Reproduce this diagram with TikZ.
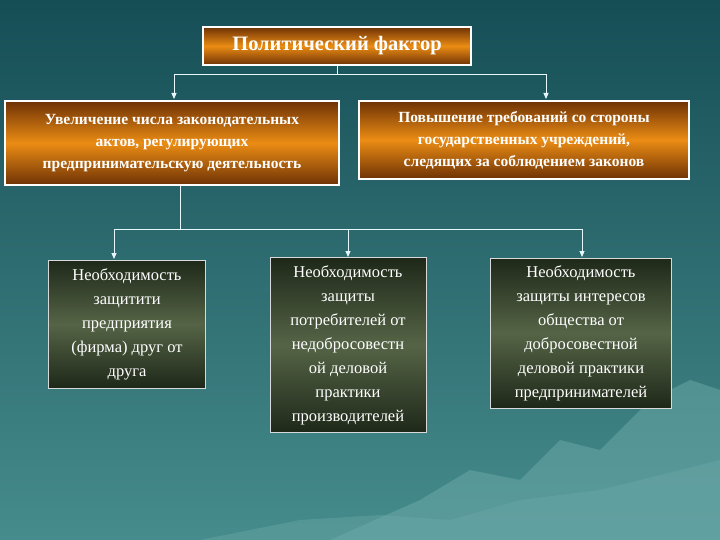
\documentclass[tikz,border=0pt]{standalone}
\usepackage{fontspec}
\setmainfont{Liberation Serif}
\usetikzlibrary{arrows.meta}
\definecolor{bgtop}{RGB}{22,78,86}
\definecolor{bgbot}{RGB}{70,140,140}
\definecolor{mnt}{RGB}{110,170,170}
\definecolor{orD}{RGB}{110,50,5}
\definecolor{orL}{RGB}{235,140,20}
\definecolor{grD}{RGB}{30,40,25}
\definecolor{grL}{RGB}{85,100,70}
\tikzset{
 obox/.style={draw=white,line width=2.5pt,top color=orD,bottom color=orD,middle color=orL,text=white,font=\bfseries\fontsize{15.5}{22}\selectfont,align=center,inner sep=4pt},
 gbox/.style={draw=white!85!black,line width=1pt,top color=grD,bottom color=grD,middle color=grL,text=white,font=\fontsize{16.5}{24}\selectfont,align=center,inner sep=3pt},
 conn/.style={draw=white!90!cyan,line width=1pt},
 arr/.style={conn,-{Triangle[width=5pt,length=6pt]}}
}
\begin{document}
\begin{tikzpicture}[x=1pt,y=-1pt]
\useasboundingbox (0,0) rectangle (720,540);
\shade[top color=bgtop,bottom color=bgbot] (0,0) rectangle (720,540);
\fill[mnt,opacity=0.5] (330,540) -- (420,500) -- (470,470) -- (520,480) -- (560,440) -- (600,450) -- (650,400) -- (690,380) -- (720,390) -- (720,540) -- cycle;
\fill[mnt,opacity=0.4] (200,540) -- (300,520) -- (380,515) -- (450,520) -- (520,500) -- (600,490) -- (680,470) -- (720,460) -- (720,540) -- cycle;
\node[obox,minimum width=268pt,minimum height=38pt,font=\bfseries\fontsize{20.5}{22}\selectfont] (top) at (337,46) {Политический фактор};
\node[obox,minimum width=334pt,minimum height=84pt] (L) at (172,143) {Увеличение числа законодательных\\актов, регулирующих\\предпринимательскую деятельность};
\node[obox,minimum width=330pt,minimum height=78pt] (R) at (524,140) {Повышение требований со стороны\\государственных учреждений,\\следящих за соблюдением законов};
\node[gbox,minimum width=157pt,minimum height=128pt] (a) at (127,324) {Необходимость\\защитити\\предприятия\\(фирма) друг от\\друга};
\node[gbox,minimum width=156pt,minimum height=175pt] (b) at (348,345) {Необходимость\\защиты\\потребителей от\\недобросовестн\\ой деловой\\практики\\производителей};
\node[gbox,minimum width=181pt,minimum height=150pt] (c) at (581,333) {Необходимость\\защиты интересов\\общества от\\добросовестной\\деловой практики\\предпринимателей};
\coordinate (t1) at (337,75);
\coordinate (t2) at (180,230);
\draw[conn] (top.south) -- (t1);
\draw[arr] (t1) -| (174,99);
\draw[arr] (t1) -| (546,99);
\draw[conn] (L.south -| t2) -- (t2);
\draw[arr] (t2) -| (114,259);
\draw[arr] (t2) -| (348,257);
\draw[arr] (t2) -| (582,257);
\end{tikzpicture}
\end{document}
